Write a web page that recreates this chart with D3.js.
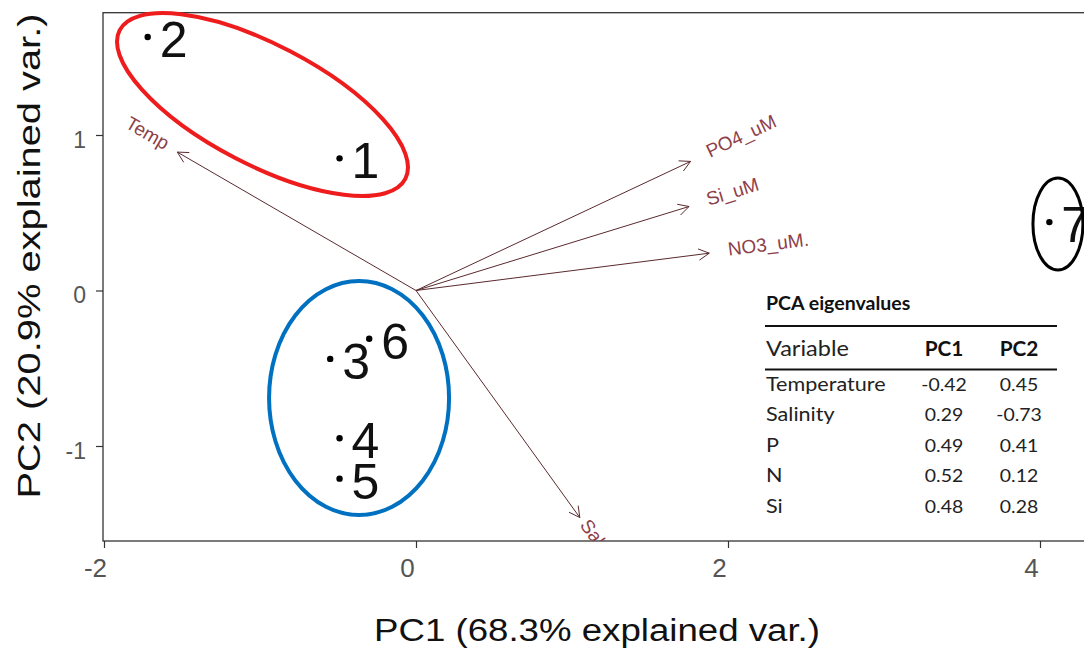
<!DOCTYPE html>
<html>
<head>
<meta charset="utf-8">
<script src="https://cdn.jsdelivr.net/npm/d3@7/dist/d3.min.js"></script>
<style>
  html, body { margin: 0; padding: 0; background: #fff; }
  svg { display: block; }
</style>
</head>
<body>
<script>
// Sample scores on the first two principal components
const obsIds = ["1", "2", "3", "4", "5", "6", "7"];
const obsPC1 = [-0.49, -1.72, -0.55, -0.49, -0.49, -0.30, 4.06];
const obsPC2 = [0.85, 1.63, -0.44, -0.95, -1.21, -0.31, 0.44];

// Variable loading arrows (biplot scale)
const varNames = ["Temp", "PO4_uM", "Si_uM", "NO3_uM.", "Sal"];
const varPC1 = [-1.53, 1.76, 1.75, 1.88, 1.05];
const varPC2 = [0.89, 0.83, 0.54, 0.24, -1.46];

// Loadings table
const tableVars = ["Temperature", "Salinity", "P", "N", "Si"];
const tablePC1 = ["-0.42", "0.29", "0.49", "0.52", "0.48"];
const tablePC2 = ["0.45", "-0.73", "0.41", "0.12", "0.28"];

// Axis ticks
const xTicks = [-2, 0, 2, 4];
const yTicks = [-1, 0, 1];

const W = 1084, H = 649;
const svg = d3.select("body").append("svg").attr("width", W).attr("height", H);

const x = d3.scaleLinear().domain([-2, 4]).range([104, 1040]);
const y = d3.scaleLinear().domain([-1, 1]).range([446, 135]);

const panel = { left: 103, top: 12.7, right: 1110, bottom: 541 };
const sans = "'Liberation Sans', Arial, sans-serif";

// clip for things that stay inside the panel
svg.append("defs").append("clipPath").attr("id", "panelClip")
  .append("rect")
  .attr("x", panel.left).attr("y", panel.top)
  .attr("width", panel.right - panel.left).attr("height", panel.bottom - panel.top);

// panel border
svg.append("rect")
  .attr("x", panel.left).attr("y", panel.top)
  .attr("width", panel.right - panel.left).attr("height", panel.bottom - panel.top)
  .attr("fill", "none").attr("stroke", "#333").attr("stroke-width", 1.3);

// x axis ticks + labels (plain hyphen for negatives)
const fmt = d => String(d);
const xAxis = d3.axisBottom(x).tickValues(xTicks).tickSize(7).tickPadding(0).tickFormat(fmt);
const gx = svg.append("g").attr("transform", `translate(0,${panel.bottom})`).call(xAxis);
gx.select(".domain").remove();
gx.selectAll(".tick line").attr("stroke", "#333").attr("stroke-width", 1.2);
gx.selectAll(".tick text")
  .attr("y", 36).attr("dy", null).attr("x", -9)
  .attr("fill", "#555")
  .style("font-family", sans)
  .style("font-size", "26px");

// y axis ticks + labels
const yAxis = d3.axisLeft(y).tickValues(yTicks).tickSize(7).tickPadding(0).tickFormat(fmt);
const gy = svg.append("g").attr("transform", `translate(${panel.left},0)`).call(yAxis);
gy.select(".domain").remove();
gy.selectAll(".tick line").attr("stroke", "#333").attr("stroke-width", 1.2);
gy.selectAll(".tick text")
  .attr("x", -17).attr("dy", null).attr("y", 12)
  .attr("fill", "#555")
  .style("font-family", sans)
  .style("font-size", "23px");

// axis titles
svg.append("text")
  .attr("x", 597).attr("y", 641)
  .attr("text-anchor", "middle")
  .attr("textLength", 446).attr("lengthAdjust", "spacingAndGlyphs")
  .style("font-family", sans)
  .style("font-size", "31px").attr("fill", "#111")
  .text("PC1 (68.3% explained var.)");

svg.append("text")
  .attr("transform", "translate(40,256) rotate(-90)")
  .attr("text-anchor", "middle")
  .attr("textLength", 485).attr("lengthAdjust", "spacingAndGlyphs")
  .style("font-family", sans)
  .style("font-size", "32px").attr("fill", "#111")
  .text("PC2 (20.9% explained var.)");

// loading arrows
const arrowCol = "#5a2a2e";
const labelCol = "#8e3f4a";
const gArrows = svg.append("g").attr("clip-path", "url(#panelClip)");
const vars = varNames.map((name, i) => ({ name, pc1: varPC1[i], pc2: varPC2[i] }));

vars.forEach(v => {
  const x0 = x(0), y0 = y(0), x1 = x(v.pc1), y1 = y(v.pc2);
  const dx = x1 - x0, dy = y1 - y0, len = Math.hypot(dx, dy);
  const ux = dx / len, uy = dy / len;
  gArrows.append("line")
    .attr("x1", x0).attr("y1", y0).attr("x2", x1).attr("y2", y1)
    .attr("stroke", arrowCol).attr("stroke-width", 1);
  // open arrow head
  const hl = 12, ha = 28 * Math.PI / 180;
  const back = Math.atan2(-uy, -ux);
  const p1 = [x1 + hl * Math.cos(back + ha), y1 + hl * Math.sin(back + ha)];
  const p2 = [x1 + hl * Math.cos(back - ha), y1 + hl * Math.sin(back - ha)];
  gArrows.append("path")
    .attr("d", `M${p1[0]},${p1[1]}L${x1},${y1}L${p2[0]},${p2[1]}`)
    .attr("fill", "none").attr("stroke", arrowCol).attr("stroke-width", 1);
  // label along the arrow direction; steep arrows get a tighter gap
  let ang = Math.atan2(dy, dx) * 180 / Math.PI;
  let anchor = "start";
  if (dx < 0) { ang = Math.atan2(-dy, -dx) * 180 / Math.PI; anchor = "end"; }
  const off = Math.abs(ang) < 40 ? (dx < 0 ? 12 : 19) : 6;
  const lx = x1 + ux * off, ly = y1 + uy * off;
  gArrows.append("text")
    .attr("transform", `translate(${lx},${ly}) rotate(${ang})`)
    .attr("text-anchor", anchor)
    .attr("dominant-baseline", "middle")
    .style("font-family", sans)
    .style("font-size", "19px")
    .attr("fill", labelCol)
    .text(v.name);
});

// sample points + labels
const obs = obsIds.map((id, i) => ({ id, pc1: obsPC1[i], pc2: obsPC2[i] }));
const gObs = svg.append("g");
gObs.selectAll("circle").data(obs).join("circle")
  .attr("cx", d => x(d.pc1)).attr("cy", d => y(d.pc2))
  .attr("r", 3.2).attr("fill", "#000");
gObs.selectAll("text").data(obs).join("text")
  .attr("x", d => x(d.pc1) + 12).attr("y", d => y(d.pc2) + 20)
  .style("font-family", sans)
  .style("font-size", "50px").attr("fill", "#111")
  .text(d => d.id);

// group outlines around clusters of samples
const hulls = [
  { cx: -0.984, cy: 1.196, rx: 161, ry: 60, rot: 27.5, color: "#ee1c1c", w: 4 },
  { cx: -0.365, cy: -0.691, rx: 90, ry: 117, rot: 0, color: "#0070c0", w: 4 },
  { cx: 4.115, cy: 0.428, rx: 25, ry: 46, rot: 0, color: "#000", w: 3 }
];
svg.append("g").selectAll("ellipse").data(hulls).join("ellipse")
  .attr("transform", d => `translate(${x(d.cx)},${y(d.cy)}) rotate(${d.rot})`)
  .attr("rx", d => d.rx).attr("ry", d => d.ry)
  .attr("fill", "none").attr("stroke", d => d.color).attr("stroke-width", d => d.w);

// loadings table
const tf = "Lato, 'Open Sans', sans-serif";
const gT = svg.append("g");
const colX = [766, 944, 1019];
function cell(tx, ty, str, size, opts = {}) {
  return gT.append("text")
    .attr("transform", `translate(${tx},${ty}) scale(${opts.sx || 1.08},1)`)
    .attr("text-anchor", opts.anchor || "start")
    .style("font-family", tf).style("font-size", size + "px")
    .style("font-weight", opts.bold ? "bold" : "normal")
    .attr("fill", opts.bold ? "#111" : "#222")
    .text(str);
}
cell(colX[0], 310, "PCA eigenvalues", 19, { bold: true, sx: 1.03 });
gT.append("line").attr("x1", 765).attr("x2", 1057).attr("y1", 326).attr("y2", 326)
  .attr("stroke", "#111").attr("stroke-width", 2);
cell(colX[0], 356, "Variable", 21, { sx: 1.12 });
["PC1", "PC2"].forEach((h, j) => cell(colX[j + 1], 356, h, 20, { bold: true, anchor: "middle", sx: 1.04 }));
gT.append("line").attr("x1", 765).attr("x2", 1057).attr("y1", 369.5).attr("y2", 369.5)
  .attr("stroke", "#111").attr("stroke-width", 2);
const rowY = d3.scaleLinear().domain([0, 4]).range([391, 512.5]);
tableVars.forEach((v, i) => {
  cell(colX[0], rowY(i), v, 20, { sx: 1.08 });
  cell(colX[1], rowY(i), tablePC1[i], 18, { anchor: "middle" });
  cell(colX[2], rowY(i), tablePC2[i], 18, { anchor: "middle" });
});
</script>
</body>
</html>
